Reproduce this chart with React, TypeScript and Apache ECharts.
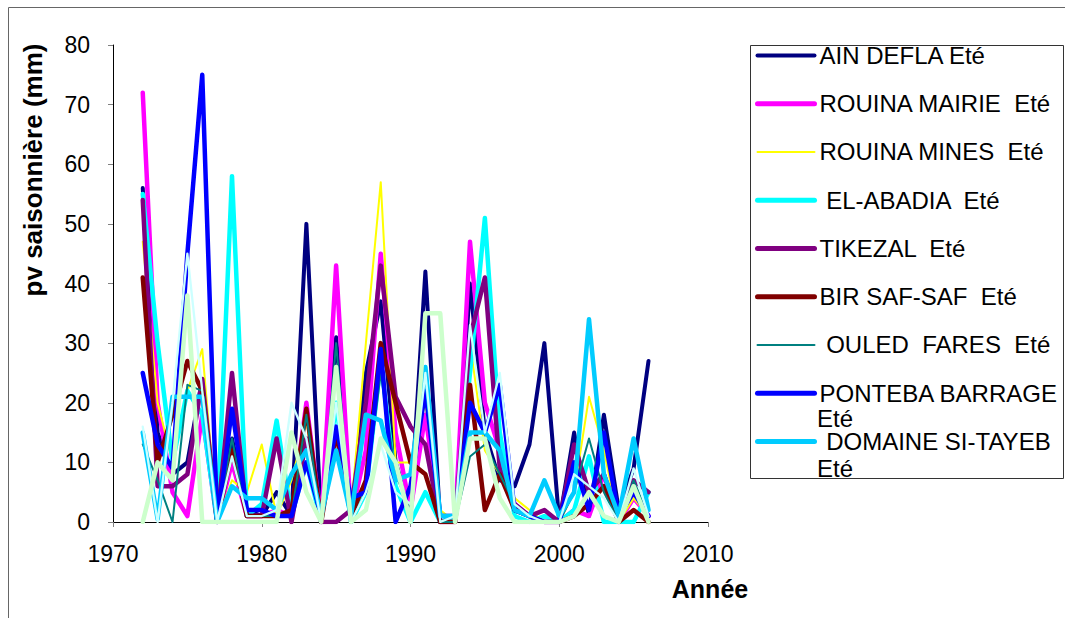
import React, { useEffect, useRef } from "react";
import * as echarts from "echarts";

const years = [1972, 1973, 1974, 1975, 1976, 1977, 1978, 1979, 1980, 1981, 1982, 1983, 1984, 1985, 1986, 1987, 1988, 1989, 1990, 1991, 1992, 1993, 1994, 1995, 1996, 1997, 1998, 1999, 2000, 2001, 2002, 2003, 2004, 2005, 2006];

const ainDefla = [56, 15, 8, 10, 24, 0, 14, 2, 1, 5, 1, 50, 0, 31, 0, 25, 37, 10, 2, 42, 0, 0, 40, 15, 7, 6, 13, 30, 0, 15, 1, 18, 2, 9, 27];
const rouinaMairie = [72, 20, 5, 1, 18, 0, 10, 1, 1, 2, 1, 20, 0, 43, 1, 12, 45, 15, 2, 18, 0, 0, 47, 20, 12, 3, 1, 0, 0, 2, 1, 8, 0, 4, 1];
const rouinaMines = [47, 20, 10, 22, 29, 0, 7, 5, 13, 1, 7, 17, 0, 15, 2, 30, 57, 10, 10, 20, 2, 0, 30, 12, 8, 4, 2, 0, 0, 5, 21, 12, 0, 4, 1];
const elAbadia = [55, 30, 10, 22, 18, 0, 58, 1, 3, 17, 1, 10, 0, 20, 0, 5, 27, 6, 0, 5, 0, 1, 25, 51, 15, 1, 0, 1, 0, 2, 11, 0, 0, 0, 5];
const tikezal = [54, 6, 6, 8, 24, 0, 25, 1, 1, 14, 0, 14, 0, 0, 2, 20, 43, 21, 16, 13, 0, 0, 31, 41, 9, 3, 1, 2, 0, 13, 5, 8, 1, 7, 5];
const birSafSaf = [41, 10, 18, 27, 22, 0, 12, 1, 1, 1, 2, 19, 0, 15, 1, 7, 30, 20, 10, 8, 0, 0, 23, 2, 8, 2, 1, 0, 0, 1, 3, 6, 0, 2, 0];
const ouledFares = [13, 7, 0, 23, 22, 0, 14, 1, 1, 1, 1, 18, 0, 30, 0, 5, 25, 8, 2, 25, 0, 0, 11, 13, 8, 3, 1, 0, 0, 5, 14, 5, 0, 7, 1];
const ponteba = [25, 13, 9, 45, 75, 0, 19, 2, 2, 1, 1, 10, 1, 16, 4, 5, 29, 0, 6, 22, 1, 1, 20, 15, 23, 2, 1, 0, 0, 10, 2, 15, 1, 5, 1];
const siTayeb = [15, 0.5, 21, 21, 21, 0, 6, 4, 4, 2, 8, 12, 1, 12, 1, 18, 17, 7, 8, 26, 1, 1, 15, 15, 12, 2, 1, 7, 1, 5, 34, 8, 1, 14, 2];
const serie10 = [16, 0, 20, 45, 22, 0, 11, 1, 1, 2, 20, 14, 0, 20, 0, 5, 13, 5, 3, 25, 0, 1, 33, 15, 25, 3, 1, 0, 0, 8, 6, 4, 0, 9, 1];
const serie11 = [0, 10, 7, 38, 0, 0, 0, 0, 0, 0, 15, 5, 0, 26, 0, 2, 14, 10, 0, 35, 35, 0, 14, 14, 4, 0, 0, 0, 0, 1, 5, 1, 0, 6, 0];

const seriesNames = [
  "AIN DEFLA Eté",
  "ROUINA MAIRIE  Eté",
  "ROUINA MINES  Eté",
  " EL-ABADIA  Eté",
  "TIKEZAL  Eté",
  "BIR SAF-SAF  Eté",
  " OULED  FARES  Eté",
  "PONTEBA BARRAGE Eté",
  " DOMAINE SI-TAYEB Eté",
  "Série 10",
  "Série 11",
];
const legendLabels = [
  "AIN DEFLA Eté",
  "ROUINA MAIRIE  Eté",
  "ROUINA MINES  Eté",
  " EL-ABADIA  Eté",
  "TIKEZAL  Eté",
  "BIR SAF-SAF  Eté",
  " OULED  FARES  Eté",
  "PONTEBA BARRAGE",
  " DOMAINE SI-TAYEB",
];
const seriesValues = [ainDefla, rouinaMairie, rouinaMines, elAbadia, tikezal, birSafSaf, ouledFares, ponteba, siTayeb, serie10, serie11];
const colors = ["#000080", "#FF00FF", "#FFFF00", "#00FFFF", "#800080", "#800000", "#008080", "#0000FF", "#00CCFF", "#CCFFFF", "#CCFFCC"];
const widths = [4, 4.5, 2, 4.5, 4.5, 4.5, 2, 4.5, 4.5, 2.3, 4.5];
const legendWidths = [4, 5, 2, 5, 5, 5, 2, 5, 5];

const FONT = "'Liberation Sans', Arial, sans-serif";

export default function App() {
  const ref = useRef<HTMLDivElement>(null);
  useEffect(() => {
    document.body.style.margin = "0";
    const chart = echarts.init(ref.current as HTMLDivElement, undefined, { renderer: "svg" });
    const legendMap: Record<string, string> = {};
    seriesNames.slice(0, 9).forEach((n, i) => (legendMap[n] = legendLabels[i]));
    chart.setOption({
      animation: false,
      backgroundColor: "#ffffff",
      grid: { left: 113, right: 1065 - 708, top: 45, bottom: 618 - 522, containLabel: false },
      xAxis: {
        type: "value",
        min: 1970,
        max: 2010,
        interval: 10,
        axisLine: { lineStyle: { color: "#000", width: 1 } },
        axisTick: { show: true, length: 5, lineStyle: { color: "#808080" } },
        axisLabel: { fontSize: 23, fontFamily: FONT, color: "#000", margin: 20, formatter: (v: number) => String(v) },
        splitLine: { show: false },
      },
      yAxis: {
        type: "value",
        min: 0,
        max: 80,
        interval: 10,
        axisLine: { show: true, lineStyle: { color: "#000", width: 1 } },
        axisTick: { show: true, length: 5, lineStyle: { color: "#808080" } },
        axisLabel: { fontSize: 23, fontFamily: FONT, color: "#000", margin: 23 },
        splitLine: { show: false },
      },
      legend: {
        orient: "vertical",
        left: 750,
        top: 38.4,
        itemWidth: 57,
        itemHeight: 14,
        itemGap: 24.25,
        selectedMode: false,
        itemStyle: { opacity: 0 },
        data: seriesNames.slice(0, 9).map((n, i) => ({
          name: n,
          lineStyle: { width: legendWidths[i], color: colors[i], cap: "round" },
        })),
        formatter: (n: string) => legendMap[n] ?? n,
        textStyle: { fontSize: 24, lineHeight: 22, fontFamily: FONT, color: "#000" },
      },
      graphic: [
        {
          type: "rect",
          shape: { x: 8.5, y: 7.5, width: 1100, height: 700 },
          style: { fill: "none", stroke: "#666", lineWidth: 1 },
          silent: true,
        },
        {
          type: "rect",
          shape: { x: 750.5, y: 45.5, width: 313, height: 433 },
          style: { fill: "none", stroke: "#333", lineWidth: 1 },
          silent: true,
        },
        {
          type: "text",
          x: 33,
          y: 170,
          rotation: Math.PI / 2,
          style: { text: "pv saisonnière (mm)", font: `bold 26px ${FONT}`, fill: "#000", textAlign: "center", textVerticalAlign: "middle" },
          silent: true,
        },
        {
          type: "text",
          x: 710,
          y: 589,
          style: { text: "Année", font: `bold 25px ${FONT}`, fill: "#000", textAlign: "center", textVerticalAlign: "middle" },
          silent: true,
        },
        {
          type: "text",
          x: 817,
          y: 418,
          style: { text: "Eté", font: `24px ${FONT}`, lineHeight: 17, fill: "#000", textAlign: "left", textVerticalAlign: "middle" },
          silent: true,
        },
        {
          type: "text",
          x: 817,
          y: 468,
          style: { text: "Eté", font: `24px ${FONT}`, lineHeight: 17, fill: "#000", textAlign: "left", textVerticalAlign: "middle" },
          silent: true,
        },
      ],
      series: seriesNames.map((name, i) => ({
        name,
        type: "line",
        data: years.map((y, j) => [y, seriesValues[i][j]]),
        symbol: "none",
        showSymbol: false,
        color: colors[i],
        lineStyle: { color: colors[i], width: widths[i], cap: "round", join: "round" },
        emphasis: { disabled: true },
        silent: true,
      })),
    });
    return () => chart.dispose();
  }, []);
  return <div ref={ref} style={{ position: "absolute", left: 0, top: 0, width: 1065, height: 618 }} />;
}
